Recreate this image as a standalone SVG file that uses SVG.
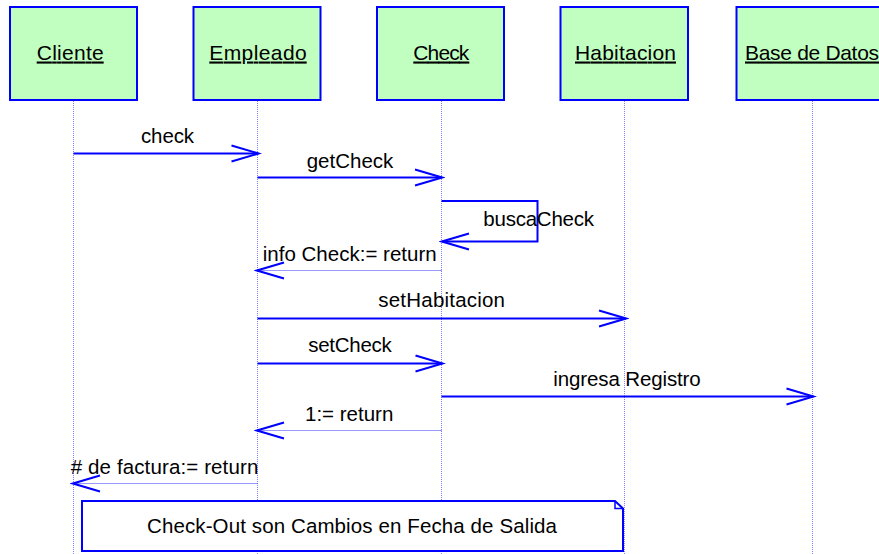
<svg xmlns="http://www.w3.org/2000/svg" width="879" height="554" viewBox="0 0 879 554">
<style>
.box{fill:#c0ffc0;stroke:#0000ff;stroke-width:2}
.lbl{font-family:"Liberation Sans",Arial,sans-serif;font-size:21px;fill:#000;text-decoration:underline}
.txt{font-family:"Liberation Sans",Arial,sans-serif;font-size:20.5px;fill:#000}
.life{stroke:#8080ff;stroke-width:1;stroke-dasharray:1,1;fill:none}
.msg{stroke:#0000ff;stroke-width:2;fill:none}
.ret{stroke:#3333ff;stroke-width:1;stroke-dasharray:1,1;fill:none}
.note{fill:#fff;stroke:#0000ff;stroke-width:2}
</style>
<defs>
<marker id="arr" markerUnits="userSpaceOnUse" markerWidth="32" markerHeight="22" viewBox="-29 -11 32 22" refX="0" refY="0" orient="auto">
<path d="M-27,-8 L0,0 L-27,8" fill="none" stroke="#0000ff" stroke-width="2" stroke-dasharray="none"/>
</marker>
</defs>
<g id="lifelines">
<line class="life" x1="73.5" y1="101" x2="73.5" y2="554"/>
<line class="life" x1="257.5" y1="101" x2="257.5" y2="554"/>
<line class="life" x1="441.5" y1="101" x2="441.5" y2="554"/>
<line class="life" x1="624.5" y1="101" x2="624.5" y2="554"/>
<line class="life" x1="812.5" y1="101" x2="812.5" y2="554"/>
</g>
<g id="node-cliente">
<rect class="box" x="10" y="7" width="127" height="93"/>
<text class="lbl" x="36.7" y="59.5" textLength="67" lengthAdjust="spacing">Cliente</text>
</g>
<g id="node-empleado">
<rect class="box" x="193.5" y="7" width="127" height="93"/>
<text class="lbl" x="209.3" y="59.5" textLength="97.4" lengthAdjust="spacing">Empleado</text>
</g>
<g id="node-check">
<rect class="box" x="377" y="7" width="127" height="93"/>
<text class="lbl" x="413.3" y="59.5" textLength="56" lengthAdjust="spacing">Check</text>
</g>
<g id="node-habitacion">
<rect class="box" x="560.5" y="7" width="127.5" height="93"/>
<text class="lbl" x="575" y="59.5" textLength="101" lengthAdjust="spacing">Habitacion</text>
</g>
<g id="node-basededatos">
<rect class="box" x="736.5" y="7" width="153" height="93"/>
<text class="lbl" x="745" y="59.5" textLength="134" lengthAdjust="spacing">Base de Datos</text>
</g>
<g id="connectors">
<line class="msg" x1="73.5" y1="153.5" x2="258.5" y2="153.5" marker-end="url(#arr)"/>
<text class="txt" x="141" y="143.3" textLength="53" lengthAdjust="spacing">check</text>
<line class="msg" x1="257.5" y1="177.5" x2="442" y2="177.5" marker-end="url(#arr)"/>
<text class="txt" x="306.7" y="167.7" textLength="86.6" lengthAdjust="spacing">getCheck</text>
<polyline class="msg" points="441.5,201 537.5,201 537.5,241.5 442,241.5" marker-end="url(#arr)"/>
<text class="txt" x="483.3" y="226" textLength="110.7" lengthAdjust="spacing">buscaCheck</text>
<line class="ret" x1="441.5" y1="270.5" x2="257" y2="270.5" marker-end="url(#arr)"/>
<text class="txt" x="262.7" y="260.5" textLength="174" lengthAdjust="spacing">info Check:= return</text>
<line class="msg" x1="257.5" y1="318.5" x2="626" y2="318.5" marker-end="url(#arr)"/>
<text class="txt" x="378.3" y="307" textLength="126.7" lengthAdjust="spacing">setHabitacion</text>
<line class="msg" x1="257.5" y1="363.5" x2="442.5" y2="363.5" marker-end="url(#arr)"/>
<text class="txt" x="308.3" y="352.3" textLength="83.4" lengthAdjust="spacing">setCheck</text>
<line class="msg" x1="441.5" y1="396.5" x2="813.5" y2="396.5" marker-end="url(#arr)"/>
<text class="txt" x="553.3" y="385.7" textLength="147.4" lengthAdjust="spacing">ingresa Registro</text>
<line class="ret" x1="441.5" y1="430.5" x2="257" y2="430.5" marker-end="url(#arr)"/>
<text class="txt" x="305" y="420.7" textLength="88.3" lengthAdjust="spacing">1:= return</text>
<line class="ret" x1="257.5" y1="483.5" x2="73" y2="483.5" marker-end="url(#arr)"/>
<text class="txt" x="70.7" y="474" textLength="187.6" lengthAdjust="spacing"># de factura:= return</text>
</g>
<g id="note">
<path class="note" d="M82,501 H615 L623,508.5 V551 H82 Z"/>
<path d="M615,501 V508.5 H623" fill="none" stroke="#0000ff" stroke-width="1.5"/>
<text class="txt" x="147" y="532.7" textLength="410" lengthAdjust="spacing">Check-Out son Cambios en Fecha de Salida</text>
</g>
</svg>
